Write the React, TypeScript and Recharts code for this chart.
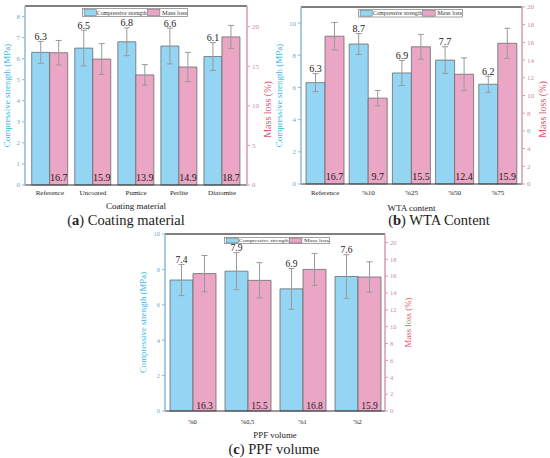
import React from "react";
import { BarChart, Bar, XAxis, YAxis, ErrorBar, LabelList, ReferenceLine } from "recharts";

const FONT = '"Liberation Serif", "Times New Roman", serif';
const BLUE = "#93d5f2";
const PINK = "#eaa6c4";
const BLUE_AXIS = "#8db9d6";
const PINK_AXIS = "#d69bb3";
const BLUE_TITLE = "#35b6e8";
const PINK_TITLE = "#e3526f";

// (a) coating material
const coatingCategories = ["Reference", "Uncoated", "Pumice", "Perlite", "Diatomite"];
const coatingStrength = [6.3, 6.5, 6.8, 6.6, 6.1];
const coatingStrengthErr = [0.52, 0.85, 0.66, 0.85, 0.66];
const coatingLoss = [16.7, 15.9, 13.9, 14.9, 18.7];
const coatingLossErr = [1.55, 1.95, 1.3, 1.85, 1.45];

// (b) WTA content
const wtaCategories = ["Reference", "%10", "%25", "%50", "%75"];
const wtaStrength = [6.3, 8.7, 6.9, 7.7, 6.2];
const wtaStrengthErr = [0.56, 0.65, 0.78, 0.83, 0.5];
const wtaLoss = [16.7, 9.7, 15.5, 12.4, 15.9];
const wtaLossErr = [1.55, 0.87, 1.4, 1.85, 1.7];

// (c) PPF volume
const ppfCategories = ["%0", "%0,5", "%1", "%2"];
const ppfStrength = [7.4, 7.9, 6.9, 7.6];
const ppfStrengthErr = [0.88, 1.05, 1.15, 1.23];
const ppfLoss = [16.3, 15.5, 16.8, 15.9];
const ppfLossErr = [2.15, 2.1, 1.9, 1.8];

const coatingStrengthTicks = [0, 1, 2, 3, 4, 5, 6, 7, 8];
const coatingLossTicks = [0, 5, 10, 15, 20];
const wtaStrengthTicks = [0, 2, 4, 6, 8, 10];
const wtaLossTicks = [0, 2, 4, 6, 8, 10, 12, 14, 16, 18, 20];
const ppfStrengthTicks = [0, 2, 4, 6, 8, 10];
const ppfLossTicks = [0, 2, 4, 6, 8, 10, 12, 14, 16, 18, 20];

type PanelProps = {
  cats: string[];
  strength: number[];
  strengthErr: number[];
  loss: number[];
  lossErr: number[];
  left: number;
  top: number;
  width: number;
  height: number;
  marginTop: number;
  leftW: number;
  rightW: number;
  xAxisH: number;
  csMax: number;
  csTicks: number[];
  mlMax: number;
  mlTicks: number[];
  gap: number;
  pad: number;
  tickFs: number;
  xTickOffset: number;
  xTitle: string;
  xTitleFs: number;
  xTitleDy: number;
  leftTitleX: number;
  leftTitleFs: number;
  rightTitleX: number;
  rightTitleFs: number;
  rightTitleDy: number;
  valueFs: number;
  lossBase: number;
};

const vTitle = (text: string, color: string, fs: number, offX: number, dy: number) => (p: any) => {
  const vb = p.viewBox || { x: 0, y: 0, width: 0, height: 0 };
  const cx = vb.x + offX;
  const cy = vb.y + vb.height / 2 + dy;
  return (
    <text
      x={cx}
      y={cy}
      transform={`rotate(-90 ${cx} ${cy})`}
      textAnchor="middle"
      dominantBaseline="central"
      fill={color}
      fontSize={fs}
      fontFamily={FONT}
    >
      {text}
    </text>
  );
};

function Panel(props: PanelProps) {
  const data = props.cats.map((c, i) => ({
    cat: c,
    strength: props.strength[i],
    strengthErr: props.strengthErr[i],
    loss: props.loss[i],
    lossErr: props.lossErr[i],
  }));

  const strengthLabel = (p: any) => {
    const { x, y, width, height, value, index } = p;
    const err = props.strengthErr[index] ?? 0;
    const top = y - (err * height) / value;
    return (
      <text x={x + width / 2} y={top - 1.5} textAnchor="middle" fontSize={props.valueFs} fontFamily={FONT} fill="#1a1a1a">
        {value}
      </text>
    );
  };

  const lossLabel = (p: any) => {
    const { x, y, width, height, value } = p;
    return (
      <text x={x + width / 2} y={y + height - props.lossBase} textAnchor="middle" fontSize={props.valueFs} fontFamily={FONT} fill="#1a1a1a">
        {value}
      </text>
    );
  };

  const xTitle = (p: any) => {
    const vb = p.viewBox || { x: 0, y: 0, width: 0, height: 0 };
    return (
      <text x={vb.x + vb.width / 2} y={vb.y + props.xTitleDy} textAnchor="middle" fontSize={props.xTitleFs} fontFamily={FONT} fill="#222">
        {props.xTitle}
      </text>
    );
  };

  return (
    <div style={{ position: "absolute", left: props.left, top: props.top }}>
      <BarChart
        width={props.width}
        height={props.height}
        data={data}
        margin={{ top: props.marginTop, right: 0, bottom: 0, left: 0 }}
        barGap={0}
        barCategoryGap={props.gap}
      >
        <XAxis
          dataKey="cat"
          interval={0}
          height={props.xAxisH}
          padding={{ left: props.pad, right: props.pad }}
          tickLine={false}
          tickSize={props.xTickOffset - 2}
          tickMargin={2}
          axisLine={{ stroke: "#333", strokeWidth: 1.2 }}
          tick={{ fill: "#222", fontSize: props.tickFs, fontFamily: FONT }}
          label={xTitle}
        />
        <YAxis
          yAxisId="cs"
          orientation="left"
          width={props.leftW}
          domain={[0, props.csMax]}
          ticks={props.csTicks}
          tickSize={3}
          tickMargin={2}
          axisLine={{ stroke: BLUE_AXIS, strokeWidth: 1.5 }}
          tickLine={{ stroke: BLUE_AXIS }}
          tick={{ fill: "#7aa9c9", fontSize: props.tickFs, fontFamily: FONT }}
          label={vTitle("Compressive strength (MPa)", BLUE_TITLE, props.leftTitleFs, props.leftTitleX, 0)}
        />
        <YAxis
          yAxisId="ml"
          orientation="right"
          width={props.rightW}
          domain={[0, props.mlMax]}
          ticks={props.mlTicks}
          tickSize={3}
          tickMargin={2}
          axisLine={{ stroke: PINK_AXIS, strokeWidth: 1.5 }}
          tickLine={{ stroke: PINK_AXIS }}
          tick={{ fill: "#c98ba3", fontSize: props.tickFs, fontFamily: FONT }}
          label={vTitle("Mass loss (%)", PINK_TITLE, props.rightTitleFs, props.rightTitleX, props.rightTitleDy)}
        />
        <ReferenceLine yAxisId="cs" y={props.csMax} stroke="#555" strokeWidth={1.6} />
        <Bar yAxisId="cs" dataKey="strength" fill={BLUE} stroke="#6b6b6b" strokeWidth={0.8} isAnimationActive={false}>
          <ErrorBar dataKey="strengthErr" width={3} stroke="#9a9a9a" strokeWidth={1} direction="y" />
          <LabelList dataKey="strength" content={strengthLabel} />
        </Bar>
        <Bar yAxisId="ml" dataKey="loss" fill={PINK} stroke="#6b6b6b" strokeWidth={0.8} isAnimationActive={false}>
          <ErrorBar dataKey="lossErr" width={3} stroke="#9a9a9a" strokeWidth={1} direction="y" />
          <LabelList dataKey="loss" content={lossLabel} />
        </Bar>
      </BarChart>
    </div>
  );
}

function SeriesKey({ x, y, w, h }: { x: number; y: number; w: number; h: number }) {
  const fs = h * 0.66;
  return (
    <svg style={{ position: "absolute", left: x, top: y }} width={w} height={h}>
      <rect x={0.5} y={0.5} width={w - 1} height={h - 1} fill="#fff" stroke="#8a8a8a" strokeWidth={0.8} />
      <rect x={w * 0.02} y={h * 0.16} width={w * 0.115} height={h * 0.68} fill={BLUE} stroke="#666" strokeWidth={0.5} />
      <text x={w * 0.14} y={h * 0.74} fontSize={fs} fill="#333" fontFamily={FONT} textLength={w * 0.47} lengthAdjust="spacingAndGlyphs">
        Compressive strength
      </text>
      <rect x={w * 0.615} y={h * 0.16} width={w * 0.12} height={h * 0.68} fill={PINK} stroke="#666" strokeWidth={0.5} />
      <text x={w * 0.755} y={h * 0.74} fontSize={fs} fill="#333" fontFamily={FONT} textLength={w * 0.235} lengthAdjust="spacingAndGlyphs">
        Mass loss
      </text>
    </svg>
  );
}

const captionStyle: React.CSSProperties = {
  position: "absolute",
  fontFamily: FONT,
  fontSize: 14.5,
  color: "#222",
  whiteSpace: "nowrap",
  transform: "translateX(-50%)",
  lineHeight: "16px",
};

export default function App() {
  return (
    <div style={{ position: "absolute", left: 0, top: 0, width: 550, height: 458, background: "#fff", overflow: "hidden" }}>
      <Panel
        cats={coatingCategories}
        strength={coatingStrength}
        strengthErr={coatingStrengthErr}
        loss={coatingLoss}
        lossErr={coatingLossErr}
        left={0}
        top={0}
        width={275}
        height={215}
        marginTop={6}
        leftW={25}
        rightW={28}
        xAxisH={30}
        csMax={8.5}
        csTicks={coatingStrengthTicks}
        mlMax={22.6}
        mlTicks={coatingLossTicks}
        gap={3.35}
        pad={3.35}
        tickFs={7}
        xTickOffset={5}
        xTitle="Coating material"
        xTitleFs={9}
        xTitleDy={24}
        leftTitleX={7}
        leftTitleFs={9}
        rightTitleX={20}
        rightTitleFs={10}
        rightTitleDy={14}
        valueFs={10}
        lossBase={4}
      />
      <Panel
        cats={wtaCategories}
        strength={wtaStrength}
        strengthErr={wtaStrengthErr}
        loss={wtaLoss}
        lossErr={wtaLossErr}
        left={275}
        top={0}
        width={275}
        height={215}
        marginTop={7}
        leftW={26}
        rightW={28}
        xAxisH={31}
        csMax={11}
        csTicks={wtaStrengthTicks}
        mlMax={20}
        mlTicks={wtaLossTicks}
        gap={2.5}
        pad={2.5}
        tickFs={7}
        xTickOffset={6}
        xTitle="WTA content"
        xTitleFs={9}
        xTitleDy={27}
        leftTitleX={4}
        leftTitleFs={9}
        rightTitleX={20}
        rightTitleFs={10}
        rightTitleDy={14}
        valueFs={10}
        lossBase={4}
      />
      <Panel
        cats={ppfCategories}
        strength={ppfStrength}
        strengthErr={ppfStrengthErr}
        loss={ppfLoss}
        lossErr={ppfLossErr}
        left={130}
        top={225}
        width={290}
        height={215}
        marginTop={9}
        leftW={35}
        rightW={35}
        xAxisH={29}
        csMax={10}
        csTicks={ppfStrengthTicks}
        mlMax={21}
        mlTicks={ppfLossTicks}
        gap={5}
        pad={0}
        tickFs={6.5}
        xTickOffset={8}
        xTitle="PPF volume"
        xTitleFs={8.8}
        xTitleDy={27}
        leftTitleX={13}
        leftTitleFs={8.8}
        rightTitleX={23}
        rightTitleFs={8.8}
        rightTitleDy={0}
        valueFs={9.5}
        lossBase={2}
      />
      <SeriesKey x={82} y={8} w={106} h={9} />
      <SeriesKey x={358} y={9} w={105} h={8.5} />
      <SeriesKey x={224} y={236.5} w={106} h={7} />
      <div style={{ ...captionStyle, left: 126, top: 212 }}>
        (<b>a</b>) Coating material
      </div>
      <div style={{ ...captionStyle, left: 439, top: 212 }}>
        (<b>b</b>) WTA Content
      </div>
      <div style={{ ...captionStyle, left: 274, top: 441 }}>
        (<b>c</b>) PPF volume
      </div>
    </div>
  );
}
